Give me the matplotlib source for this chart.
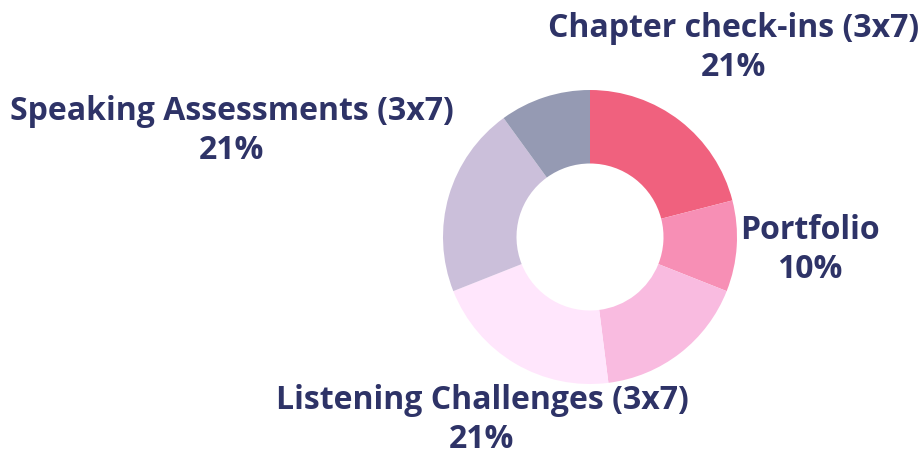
import matplotlib
matplotlib.use("Agg")
import matplotlib.pyplot as plt

labels = ["Chapter check-ins (3x7)", "Portfolio", "", "Listening Challenges (3x7)", "Speaking Assessments (3x7)", ""]
values = [21, 10, 17, 21, 21, 10]
colors = ["#F0617E", "#F78FB5", "#F9BBE0", "#FFE6FC", "#CBBFDA", "#959AB3"]

W, H = 923, 455
fig = plt.figure(figsize=(W / 100, H / 100), dpi=100)
ax = fig.add_axes([0, 0, 1, 1])
ax.set_xlim(0, W)
ax.set_ylim(0, H)
ax.set_aspect("equal")
ax.axis("off")

cx, cy, R = 590, H - 237, 147
ax.pie(values, colors=colors, startangle=90, counterclock=False,
       radius=R, center=(cx, cy), frame=True,
       wedgeprops=dict(width=R * 0.5, linewidth=0))
ax.set_xlim(0, W)
ax.set_ylim(0, H)
ax.axis("off")

label_pos = {0: (734, 48), 1: (810, 250), 3: (482, 420), 4: (232, 131)}
txtcolor = "#2E3367"
for i, (x, y) in label_pos.items():
    ax.text(x, H - y, f"{labels[i]}\n{values[i]}%", ha="center", va="center",
            fontsize=23, fontweight="bold", family="Open Sans", color=txtcolor,
            linespacing=1.25)

fig.savefig("out.png", dpi=100)
